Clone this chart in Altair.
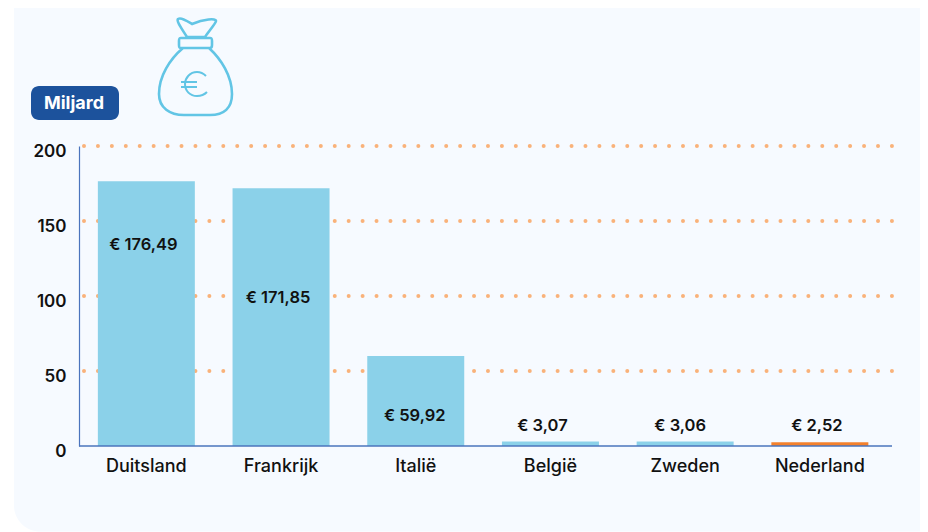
import altair as alt
import pandas as pd

countries = ["Duitsland", "Frankrijk", "Italië", "België", "Zweden", "Nederland"]
values = [176.49, 171.85, 59.92, 3.07, 3.06, 2.52]
value_labels = ["€ 176,49", "€ 171,85", "€ 59,92", "€ 3,07", "€ 3,06", "€ 2,52"]
label_anchor = [134.0, 98.6, 20.0, 13.3, 13.3, 13.3]
label_shift = [-3, -3, -1, -8, -5, -3]
bar_colors = ["#8bd1e9", "#8bd1e9", "#8bd1e9", "#8bd1e9", "#8bd1e9", "#f4812c"]
grid_values = [50, 100, 150, 200]
y_ticks = [0, 50, 100, 150, 200]

FONT = "Inter"
TEXT = "#111111"
AXIS = "#4a74bd"

df = pd.DataFrame({"land": countries, "waarde": values, "label": value_labels,
                   "anker": label_anchor, "kleur": bar_colors})
grid = pd.DataFrame({"g": grid_values})
one = pd.DataFrame({"a": [0]})

x_scale = alt.Scale(domain=countries, range=[0, 808.2], paddingInner=0.28, paddingOuter=0.14)
y_scale = alt.Scale(domain=[0, 200], nice=False)

panel = alt.Chart(one).mark_rect(color="#f6faff", cornerRadius=26).encode(
    x=alt.value(-65), x2=alt.value(900), y=alt.value(-200), y2=alt.value(385.5))

grid_layer = alt.Chart(grid).mark_rule(
    color="#f9b27a", strokeWidth=4, strokeDash=[0, 13.93], strokeCap="round"
).encode(
    y=alt.Y("g:Q", scale=y_scale,
            axis=alt.Axis(values=y_ticks, title=None, grid=False, ticks=False, labelPadding=13,
                          labelFont=FONT, labelFontSize=17, labelFontWeight=600,
                          labelColor=TEXT, labelOffset=5, domainColor=AXIS, domainWidth=1.2,
                          zindex=1)),
    x=alt.value(5), x2=alt.value(813))

bars = alt.Chart(df).mark_bar().encode(
    x=alt.X("land:N", sort=countries, scale=x_scale,
            axis=alt.Axis(title=None, labelAngle=0, ticks=False, domain=False, labelPadding=11,
                          labelFont=FONT, labelFontSize=18, labelFontWeight=500,
                          labelColor=TEXT, zindex=1)),
    y=alt.Y("waarde:Q", scale=y_scale),
    color=alt.Color("kleur:N", scale=None))

baseline = alt.Chart(one).mark_rule(color=AXIS, strokeWidth=1.4).encode(
    x=alt.value(0), x2=alt.value(813), y=alt.value(300))

label_layers = [
    alt.Chart(df[df["land"] == land]).mark_text(
        font=FONT, fontSize=16.5, fontWeight=600, color=TEXT, baseline="middle", dx=shift
    ).encode(
        x=alt.X("land:N", sort=countries, scale=x_scale),
        y=alt.Y("anker:Q", scale=y_scale),
        text="label:N")
    for land, shift in zip(countries, label_shift)
]

badge = alt.Chart(one).mark_rect(color="#1c529c", cornerRadius=8).encode(
    x=alt.value(-48), x2=alt.value(40), y=alt.value(-60), y2=alt.value(-26))
badge_text = alt.Chart(pd.DataFrame({"t": ["Miljard"]})).mark_text(
    font=FONT, fontSize=18, fontWeight=700, color="white", baseline="middle"
).encode(x=alt.value(-5), y=alt.value(-42), text="t:N")

BAG = ("M-18 -48 C-20 -46 -14 -38 -9 -30 L9 -30 C13 -36 20 -44 20 -46 C20 -49 8 -48 -4 -43 "
       "C-9 -46 -15 -50 -18 -48 Z "
       "M-15 -29 L14 -29 C16 -29 16 -28 16 -26 L16 -22 C16 -20 15 -19 14 -19 L-15 -19 "
       "C-17 -19 -17 -20 -17 -22 L-17 -26 C-17 -28 -17 -29 -15 -29 Z "
       "M-13 -19 C-26 -8 -37 9 -37 27 C-37 41 -26 48 -12 48 L14 48 C28 48 36 41 36 27 "
       "C36 9 25 -8 13 -19")
EURO = ("M10 9 C7 6 5 5 1 5 C-6 5 -11 11 -11 17 C-11 24 -6 29 1 29 C5 29 8 28 11 25 "
        "M-15 15 L1 15 M-15 20 L1 20")

bag = alt.Chart(one).mark_point(shape=BAG, size=4, filled=False, stroke="#62c5e5",
                                strokeWidth=2.6, opacity=1).encode(
    x=alt.value(117), y=alt.value(-79))
euro = alt.Chart(one).mark_point(shape=EURO, size=4, filled=False, stroke="#62c5e5",
                                 strokeWidth=2, opacity=1).encode(
    x=alt.value(117), y=alt.value(-79))

chart = alt.layer(panel, grid_layer, bars, baseline, *label_layers, badge, badge_text, bag, euro).properties(
    width=813, height=300,
    autosize=alt.AutoSizeParams(type="none"),
    padding={"left": 71, "top": 138, "right": 28, "bottom": 86},
    background="white",
).configure_view(stroke=None)

chart.save("out.html", embed_options={"renderer": "svg", "actions": False})
